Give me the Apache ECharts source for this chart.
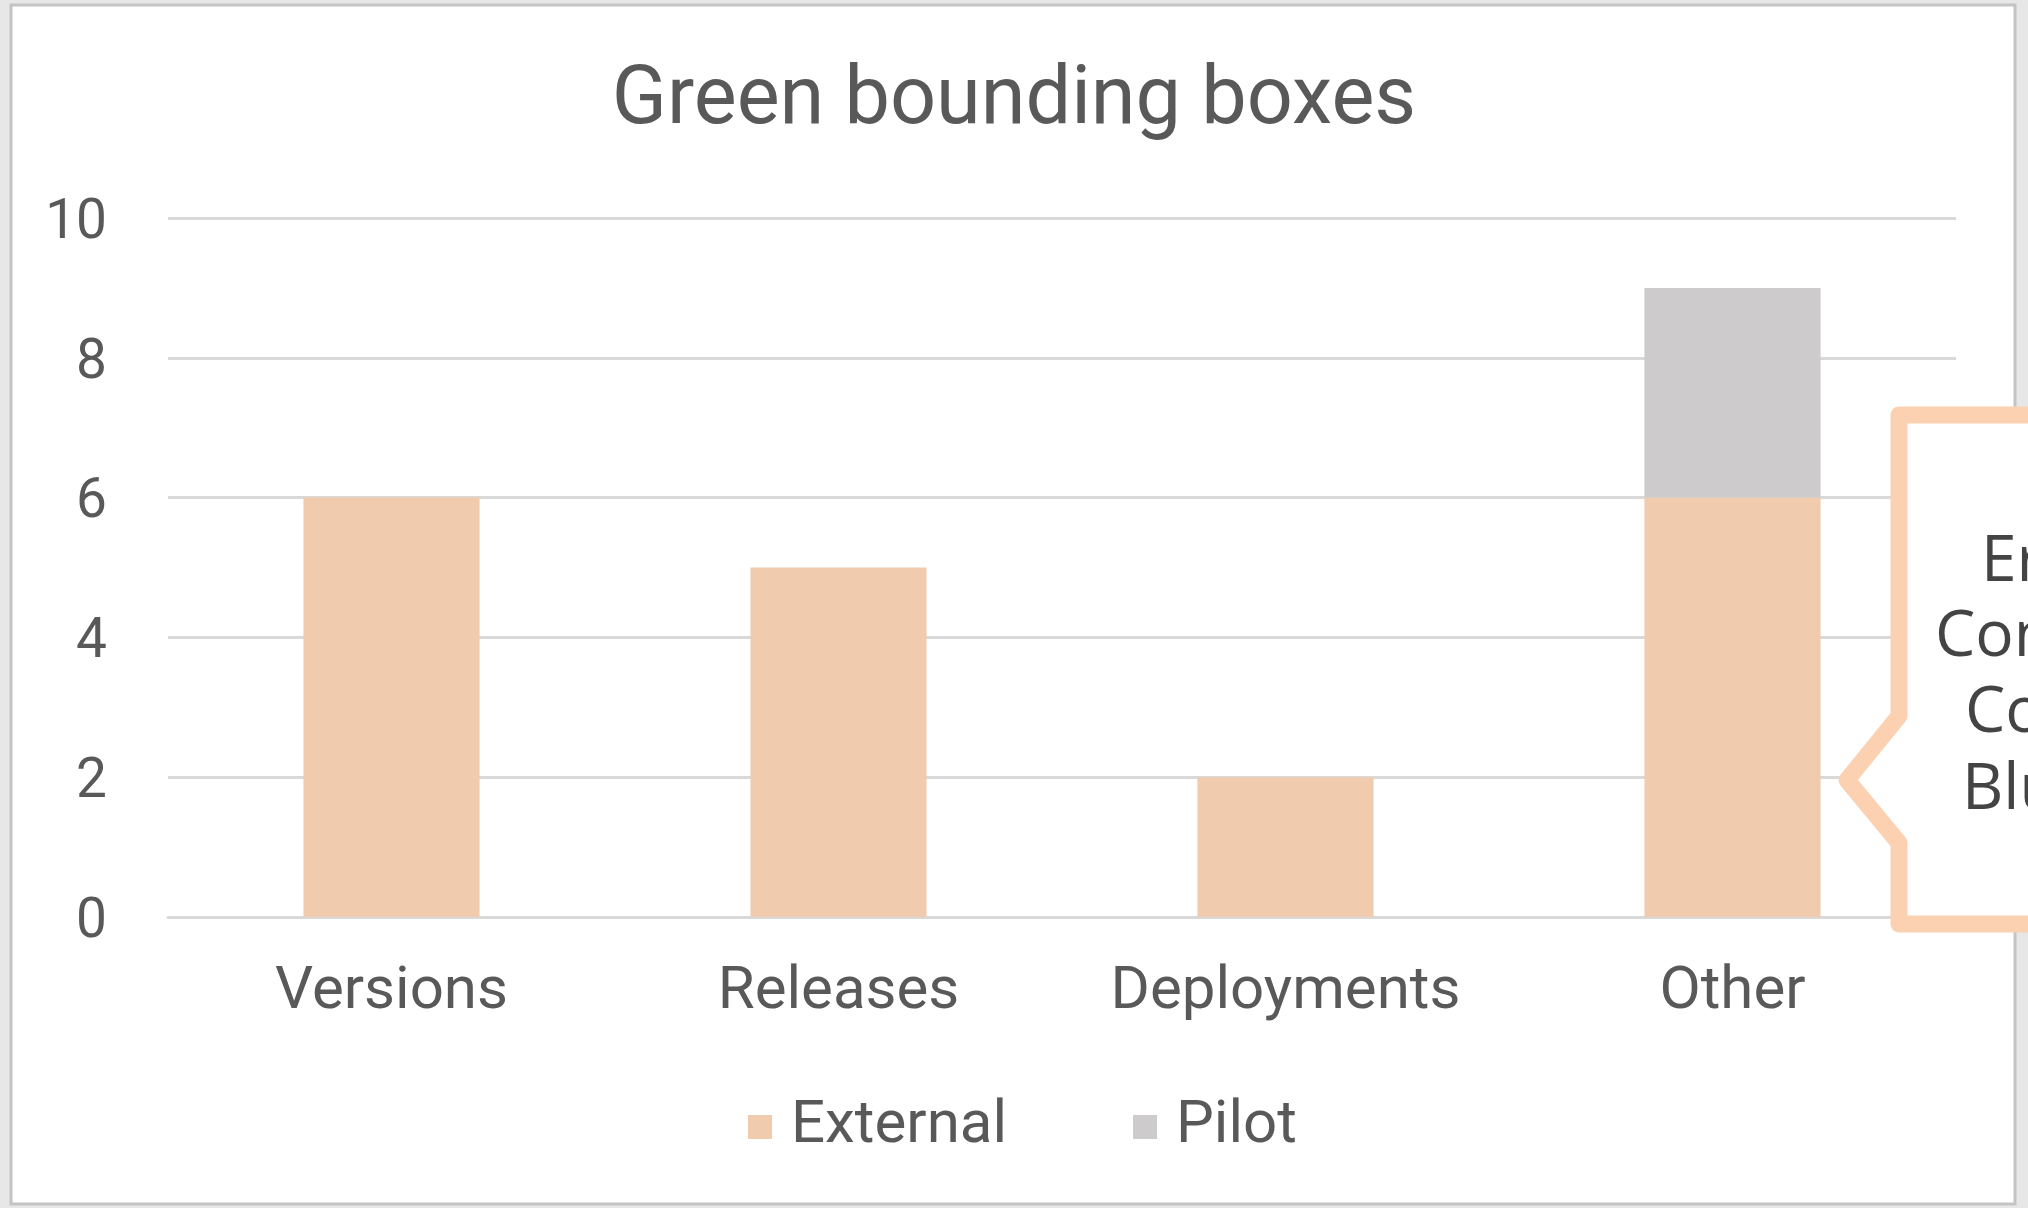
<!DOCTYPE html>
<html>
<head>
<meta charset="utf-8">
<title>Green bounding boxes</title>
<script src="https://cdn.jsdelivr.net/npm/echarts@6/dist/echarts.min.js"></script>
<style>
  html, body { margin: 0; padding: 0; background: #e7e7e7; }
  #chart { width: 2028px; height: 1208px; }
</style>
</head>
<body>
<div id="chart"></div>
<script>
// Chart data
const titleText = 'Green bounding boxes';
const categories = ['Versions', 'Releases', 'Deployments', 'Other'];
const seriesNames = ['External', 'Pilot'];
const externalValues = [6, 5, 2, 6];
const pilotValues = [0, 0, 0, 3];
const yMin = 0;
const yMax = 10;
const yStep = 2;

// Side note box text (runs off the right edge of the slide)
const noteLines = ['Errors', 'Contrast', 'Color', 'Blur'];

const FONT = 'Roboto, "Noto Sans", sans-serif';
const TEXT_COLOR = '#595959';
const EXTERNAL_COLOR = '#f1cbae';
const PILOT_COLOR = '#cdcbcc';
const GRID_COLOR = '#d9d9d9';
const NOTE_BORDER = '#fcd1b2';

const chart = echarts.init(document.getElementById('chart'), null, { renderer: 'canvas' });

const noteX = [1981, 1935, 1965, 1962];
const noteY = [563, 638, 714, 791];

const option = {
  backgroundColor: '#e7e7e7',
  animation: false,
  textStyle: { fontFamily: FONT },
  title: {
    text: titleText,
    left: 'center',
    top: 62,
    padding: 0,
    textStyle: {
      fontFamily: FONT,
      fontSize: 81,
      fontWeight: 'normal',
      color: TEXT_COLOR
    }
  },
  grid: {
    left: 168,
    right: 72,
    top: 218,
    bottom: 291,
    containLabel: false
  },
  legend: {
    data: seriesNames,
    left: 748,
    top: 1097,
    padding: 0,
    itemGap: 126,
    itemWidth: 24,
    itemHeight: 24,
    icon: 'rect',
    textStyle: {
      fontFamily: FONT,
      fontSize: 60,
      color: TEXT_COLOR,
      padding: [0, 0, 0, 14]
    }
  },
  xAxis: {
    type: 'category',
    data: categories,
    axisLine: { show: true, lineStyle: { color: GRID_COLOR, width: 3 } },
    axisTick: { show: false },
    axisLabel: {
      interval: 0,
      fontFamily: FONT,
      fontSize: 60,
      color: TEXT_COLOR,
      margin: 46
    }
  },
  yAxis: {
    type: 'value',
    min: yMin,
    max: yMax,
    interval: yStep,
    axisLine: { show: false },
    axisTick: { show: false },
    axisLabel: {
      margin: 61,
      // an empty spacer line above each number nudges it down onto its gridline
      formatter: '{gap|}\n{num|{value}}',
      rich: {
        gap: { height: 12, lineHeight: 12, fontSize: 10 },
        num: {
          fontFamily: FONT,
          fontSize: 55,
          lineHeight: 62,
          color: TEXT_COLOR,
          align: 'right'
        }
      }
    },
    splitLine: { lineStyle: { color: GRID_COLOR, width: 3 } }
  },
  series: [
    {
      name: seriesNames[0],
      type: 'bar',
      stack: 'total',
      data: externalValues,
      barWidth: '39.4%',
      itemStyle: { color: EXTERNAL_COLOR }
    },
    {
      name: seriesNames[1],
      type: 'bar',
      stack: 'total',
      data: pilotValues,
      barWidth: '39.4%',
      itemStyle: { color: PILOT_COLOR }
    }
  ],
  graphic: [
    // slide frame behind the chart
    {
      type: 'rect',
      z: -10,
      silent: true,
      shape: { x: 11, y: 5, width: 2004, height: 1199 },
      style: { fill: '#ffffff', stroke: '#c4c4c4', lineWidth: 3 }
    },
    // callout box with a pointer on its left side
    {
      type: 'polygon',
      z: 100,
      silent: true,
      shape: {
        points: [
          [1899, 415], [2060, 415], [2060, 924], [1899, 924],
          [1899, 843], [1847, 780], [1899, 716]
        ]
      },
      style: {
        fill: '#ffffff',
        stroke: NOTE_BORDER,
        lineWidth: 17,
        lineJoin: 'round'
      }
    }
  ].concat(noteLines.map((line, i) => ({
    type: 'text',
    z: 101,
    silent: true,
    x: noteX[i],
    y: noteY[i],
    style: {
      text: line,
      font: '64px "Open Sans", Lato, sans-serif',
      fill: '#444444',
      align: 'left',
      verticalAlign: 'middle'
    }
  })))
};

chart.setOption(option);
</script>
</body>
</html>
